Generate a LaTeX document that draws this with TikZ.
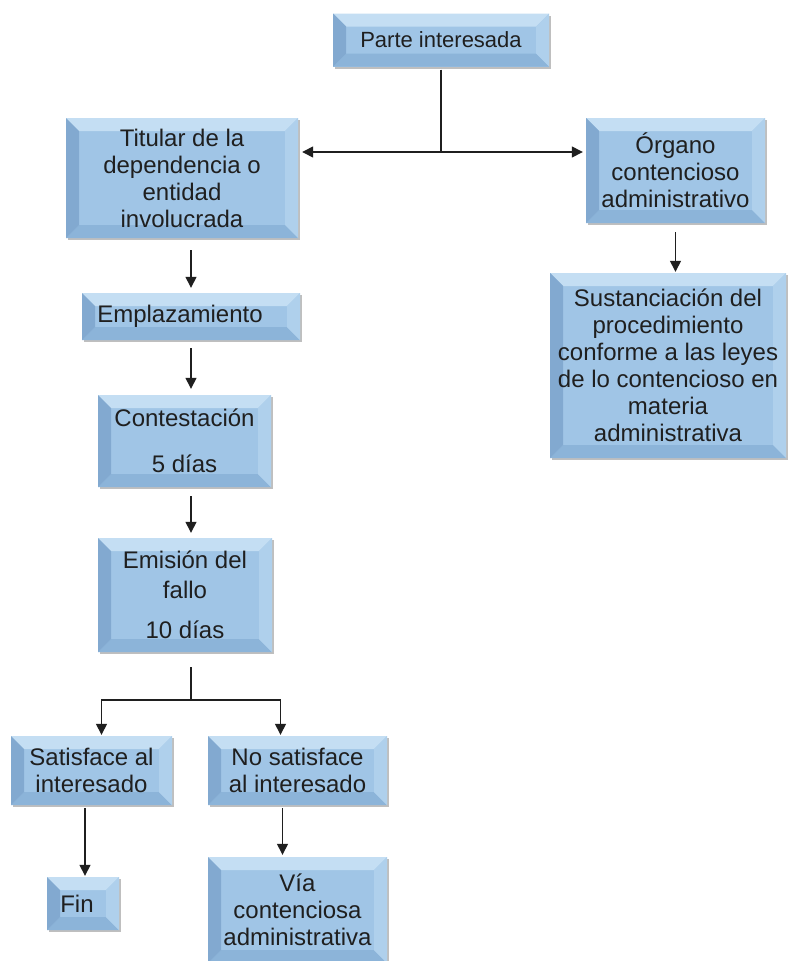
\documentclass[tikz,border=0pt]{standalone}
\usepackage{fontspec}
\setmainfont{Liberation Sans}
\usetikzlibrary{calc,shadows,arrows.meta}
\definecolor{bxmid}{RGB}{160,197,230}
\definecolor{bxtop}{RGB}{196,222,243}
\definecolor{bxleft}{RGB}{130,169,208}
\definecolor{bxbot}{RGB}{140,180,217}
\definecolor{bxright}{RGB}{175,208,236}
\tikzset{
  bevelbox/.style={draw=none, fill=bxmid, inner sep=0pt, align=center,
    font=\fontsize{24}{27}\selectfont, text=black!88,
    drop shadow={shadow xshift=1.5pt, shadow yshift=-2pt, fill=black, opacity=0.25},
    path picture={
      \coordinate (bsw) at (path picture bounding box.south west);
      \coordinate (bne) at (path picture bounding box.north east);
      \coordinate (bnw) at (bsw|-bne);
      \coordinate (bse) at (bne|-bsw);
      \fill[bxtop] (bnw) -- (bne) -- ([xshift=-13pt,yshift=-13pt]bne) -- ([xshift=13pt,yshift=-13pt]bnw) -- cycle;
      \fill[bxbot] (bsw) -- (bse) -- ([xshift=-13pt,yshift=13pt]bse) -- ([xshift=13pt,yshift=13pt]bsw) -- cycle;
      \fill[bxleft] (bnw) -- (bsw) -- ([xshift=13pt,yshift=13pt]bsw) -- ([xshift=13pt,yshift=-13pt]bnw) -- cycle;
      \fill[bxright] (bne) -- (bse) -- ([xshift=-13pt,yshift=13pt]bse) -- ([xshift=-13pt,yshift=-13pt]bne) -- cycle;
    }},
  arr/.style={-{Triangle[width=11pt,length=11pt]}, line width=1.4pt, draw=black!88},
  ln/.style={line width=1.4pt, draw=black!88}
}
\begin{document}
\begin{tikzpicture}[x=1pt,y=-1pt]
\useasboundingbox (0,0) rectangle (791,961);
\clip (0,0) rectangle (791,961);
\fill[white] (0,0) rectangle (791,961);

\node[bevelbox, minimum width=216pt, minimum height=53pt, font=\fontsize{22}{26}\selectfont] (pi) at (441,40) {Parte interesada};
\node[bevelbox, minimum width=232pt, minimum height=120pt] (tit) at (182,178) {Titular de la\\dependencia o\\entidad\\involucrada};
\node[bevelbox, minimum width=179pt, minimum height=105pt] (org) at (675.5,170.5) {Órgano\\contencioso\\administrativo};
\node[bevelbox, minimum width=236pt, minimum height=185pt] (sus) at (668,365.5) {Sustanciación del\\procedimiento\\conforme a las leyes\\de lo contencioso en\\materia\\administrativa};
\node[bevelbox, minimum width=218pt, minimum height=47pt] (emp) at (191,316.5) {Emplazamiento\hspace*{22pt}};
\node[bevelbox, minimum width=173pt, minimum height=92pt] (con) at (184.5,441) {Contestación\\[19pt]5 días};
\node[bevelbox, minimum width=174pt, minimum height=114pt] (emi) at (185,595) {Emisión del\\[3pt]fallo\\[13pt]10 días};
\node[bevelbox, minimum width=161pt, minimum height=69pt] (sat) at (91.5,770.5) {Satisface al\\interesado};
\node[bevelbox, minimum width=179pt, minimum height=69pt] (nos) at (297.5,770.5) {No satisface\\al interesado};
\node[bevelbox, minimum width=72pt, minimum height=53pt] (fin) at (83,903.5) {Fin\hspace*{12pt}};
\node[bevelbox, minimum width=179pt, minimum height=106pt] (via) at (297.5,910) {Vía\\contenciosa\\administrativa};

\coordinate (j1) at (441,152);
\draw[ln] ($(pi.south)+(0,3)$) -- (j1);
\draw[arr] (j1) -- ($(tit.east |- j1)+(4,0)$);
\draw[arr] (j1) -- ($(org.west |- j1)+(-3,0)$);
\draw[arr] ($(org.south)+(0,9)$) -- ($(org.south |- sus.north)+(0,-1)$);
\draw[arr] ($(tit.south -| emp.north)+(0,12)$) -- ($(emp.north)+(0,-5)$);
\draw[arr] ($(emp.south)+(0,8)$) -- ($(emp.south |- con.north)+(0,-6)$);
\draw[arr] ($(con.south -| emp.south)+(0,9)$) -- ($(emp.south |- emi.north)+(0,-5)$);
\coordinate (j2) at (191,700);
\draw[ln] ($(emi.south -| j2)+(0,15)$) -- (j2);
\draw[arr] (j2) -| ($(sat.north)+(10,-1)$);
\draw[arr] (j2) -| ($(nos.north)+(-17,-1)$);
\draw[arr] ($(sat.south -| fin.north)+(2,3)$) -- ($(fin.north)+(2,-1)$);
\draw[arr] ($(nos.south)+(-15,3)$) -- ($(via.north)+(-15,-2)$);
\end{tikzpicture}
\end{document}
